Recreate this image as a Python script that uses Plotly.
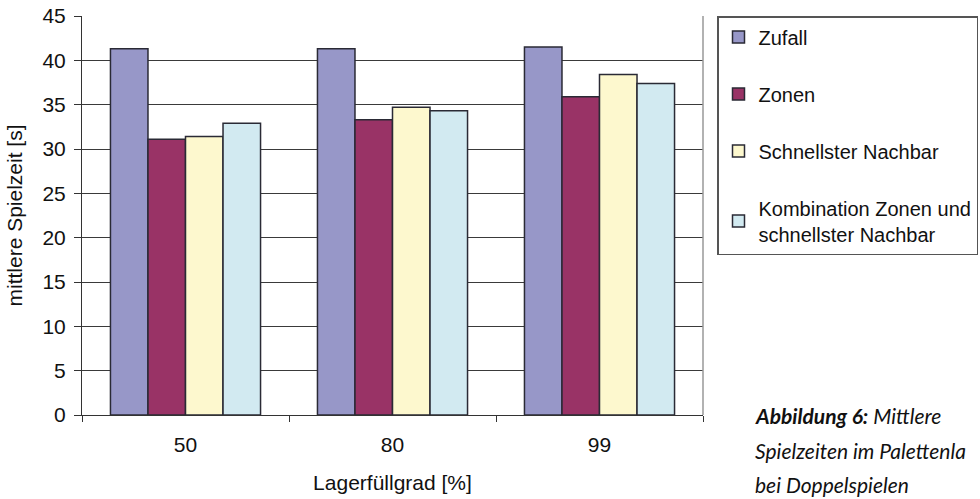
import plotly.graph_objects as go

categories = ["50", "80", "99"]
series_names = ["Zufall", "Zonen", "Schnellster Nachbar", "Kombination Zonen und<br>schnellster Nachbar"]
zufall = [41.3, 41.3, 41.5]
zonen = [31.1, 33.3, 35.9]
schnellster = [31.4, 34.7, 38.4]
kombination = [32.9, 34.3, 37.4]
colors = ["#9797C8", "#993366", "#FDF8CE", "#D2EAF1"]
yticks = [0, 5, 10, 15, 20, 25, 30, 35, 40, 45]
caption_lines = ["<b><i>Abbildung 6:</i></b><i> Mittlere</i>",
                 "<i>Spielzeiten im Palettenla</i>",
                 "<i>bei Doppelspielen</i>"]

FONT = "Arial"
FS = 21

L, R, T, B = 82, 277, 16, 84
PW = 980 - L - R
PH = 499 - T - B

fig = go.Figure()
for i, (name, vals) in enumerate(zip(series_names, [zufall, zonen, schnellster, kombination])):
    fig.add_trace(go.Bar(
        x=categories, y=vals, name=name, legendgroup=f"g{i}",
        marker=dict(color=colors[i], line=dict(color="#2a2a35", width=1.5)),
    ))

fig.update_layout(
    width=980, height=499,
    margin=dict(l=L, r=R, t=T, b=B, autoexpand=False),
    paper_bgcolor="white", plot_bgcolor="white",
    barmode="group", bargap=0.275, bargroupgap=0,
    font=dict(family=FONT, size=FS, color="#111"),
    showlegend=True,
    legend=dict(
        x=(717 - L) / PW, xanchor="left", y=1, yanchor="top",
        bordercolor="#555", borderwidth=1.5, bgcolor="white",
        tracegroupgap=28, font=dict(size=20, family=FONT),
        itemwidth=30,
    ),
    xaxis=dict(
        type="category", showline=True, linecolor="#333", linewidth=1,
        ticks="outside", tickson="boundaries", ticklen=6, tickcolor="#333",
        showgrid=False, ticklabelstandoff=11,
        title=dict(text="Lagerfüllgrad [%]", standoff=20, font=dict(size=FS)),
    ),
    yaxis=dict(
        range=[0, 45], tickvals=yticks, showline=True, linecolor="#333", linewidth=1,
        ticks="outside", ticklen=7, tickcolor="#333", ticklabelstandoff=4,
        showgrid=True, gridcolor="#3a3a3a", gridwidth=1, zeroline=False,
        title=dict(text="mittlere Spielzeit [s]", standoff=14, font=dict(size=FS)),
    ),
)

# right border of plot area
fig.add_shape(type="line", xref="paper", yref="paper", x0=1, x1=1, y0=0, y1=1,
              line=dict(color="#999", width=1.5))

caption_font = "Lato, Open Sans, sans-serif"
cap_x = (753 - L) / PW
for text, ypix in zip(caption_lines, [415, 450, 484]):
    fig.add_annotation(
        xref="paper", yref="paper", x=cap_x, y=(415 - ypix) / PH,
        xanchor="left", yanchor="middle", showarrow=False, align="left",
        text=text, font=dict(family=caption_font, size=21, color="#111"),
    )

fig.write_html("out.html")
